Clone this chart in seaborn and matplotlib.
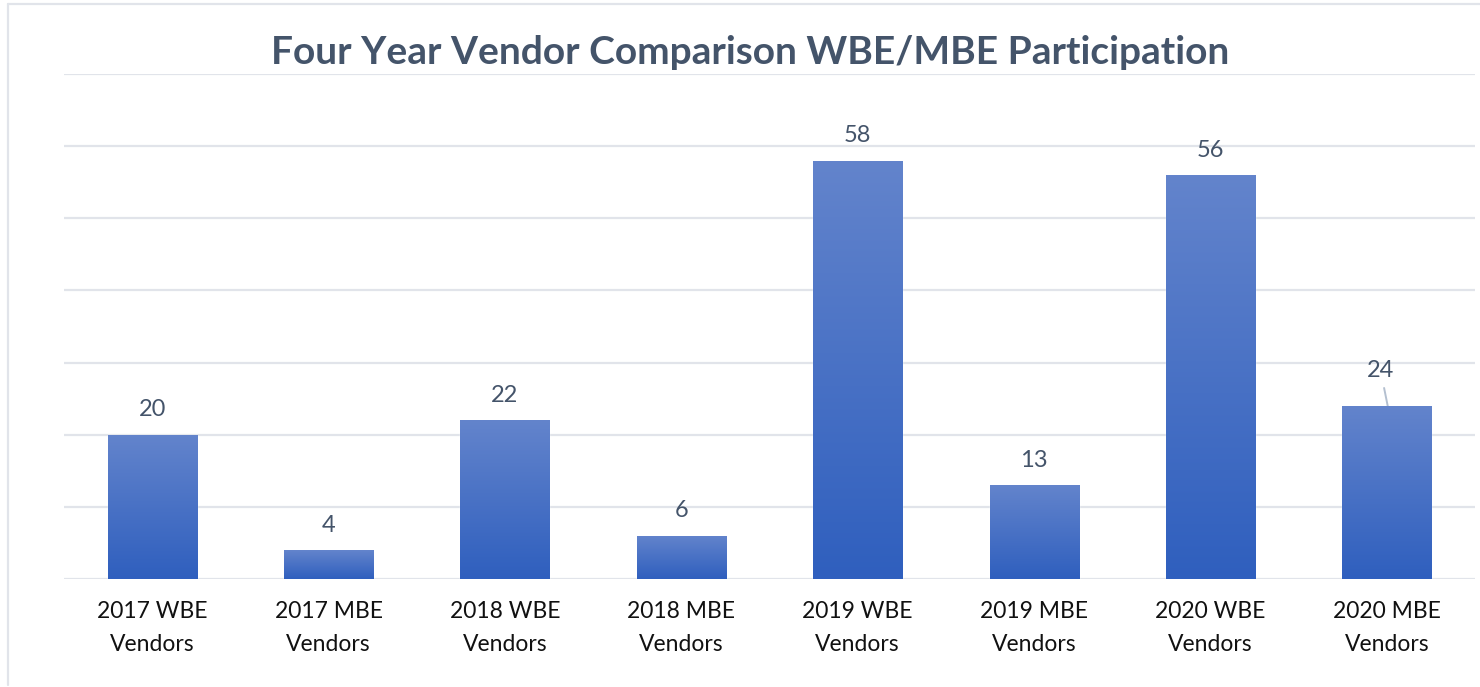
import numpy as np
import pandas as pd
import matplotlib.pyplot as plt
import matplotlib.colors as mcolors
import seaborn as sns

# --- DATA ---
categories = ["2017 WBE\nVendors", "2017 MBE\nVendors", "2018 WBE\nVendors", "2018 MBE\nVendors",
              "2019 WBE\nVendors", "2019 MBE\nVendors", "2020 WBE\nVendors", "2020 MBE\nVendors"]
vendors = [20, 4, 22, 6, 58, 13, 56, 24]
title = "Four Year Vendor Comparison WBE/MBE Participation"

df = pd.DataFrame({"Category": categories, "Vendors": vendors})

# --- STYLE ---
sns.set_style("white")
plt.rcParams['font.family'] = ['Lato', 'DejaVu Sans']
text_color = "#44546a"
grid_color = "#e1e4ea"
top_col = "#6384cc"
bot_col = "#2f5fbe"

fig = plt.figure(figsize=(14.8, 6.87), dpi=100)
ax = fig.add_axes([64 / 1480, 1 - 579 / 687, (1475 - 64) / 1480, (579 - 74) / 687])

sns.barplot(data=df, x="Category", y="Vendors", color=bot_col, width=0.505,
            saturation=1, ax=ax, zorder=3)

ax.set_xlim(-0.5, 7.5)
ax.set_ylim(0, 70)
ax.set_yticks(np.arange(0, 71, 10))
ax.yaxis.grid(True, color=grid_color, linewidth=1.6, zorder=0)
ax.set_yticklabels([])
ax.tick_params(axis="y", length=0)
ax.tick_params(axis="x", length=0, pad=16, labelsize=16.5, labelcolor="#111111")
for lab in ax.get_xticklabels():
    lab.set_linespacing(1.7)
for s in ax.spines.values():
    s.set_visible(False)
ax.set_xlabel("")
ax.set_ylabel("")

# vertical gradient on each bar (lighter at top)
cmap = mcolors.LinearSegmentedColormap.from_list("grad", [bot_col, top_col])
grad = np.linspace(0, 1, 256).reshape(-1, 1)
for patch in ax.patches:
    x0, y0 = patch.get_x(), patch.get_y()
    w, h = patch.get_width(), patch.get_height()
    im = ax.imshow(grad, cmap=cmap, origin="lower", aspect="auto",
                   extent=[x0, x0 + w, y0, y0 + h], zorder=4)
    im.set_clip_path(patch)
ax.set_xlim(-0.5, 7.5)
ax.set_ylim(0, 70)

# value labels
for i, v in enumerate(vendors):
    if i == 7:
        ax.annotate(str(v), xy=(i + 0.005, v), xytext=(i - 0.035, v + 4.86),
                    ha="center", va="center", fontsize=17, color=text_color,
                    arrowprops=dict(arrowstyle="-", color="#b4c0d0", lw=1.4,
                                    shrinkA=2.5, shrinkB=0))
    else:
        ax.text(i, v + 3.45, str(v), ha="center", va="center",
                fontsize=17, color=text_color)

fig.text(0.507, 1 - 53 / 687, title, ha="center", va="center",
         fontsize=28, fontweight="bold", color=text_color)

# outer chart frame (left and top edges visible)
fig.add_artist(plt.Line2D([8 / 1480, 8 / 1480], [1 - 685 / 687, 1 - 4 / 687],
                          color=grid_color, lw=1.6, transform=fig.transFigure))
fig.add_artist(plt.Line2D([8 / 1480, 1.0], [1 - 4 / 687, 1 - 4 / 687],
                          color=grid_color, lw=1.6, transform=fig.transFigure))

fig.savefig("out.png", dpi=100)
